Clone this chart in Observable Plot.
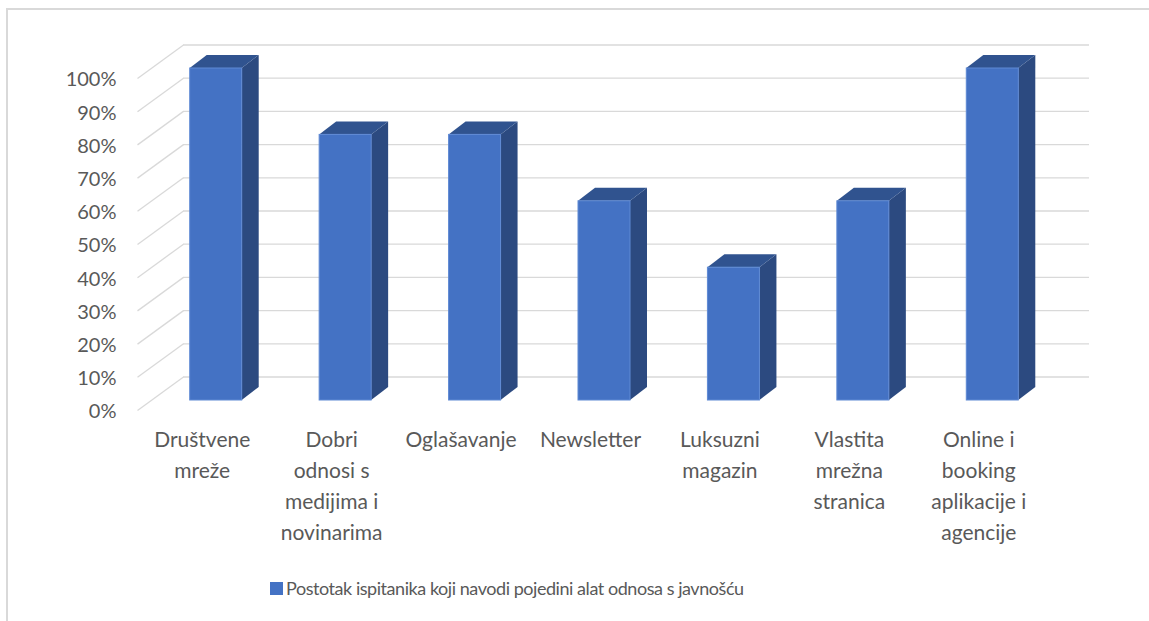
<!DOCTYPE html>
<html>
<head>
<meta charset="utf-8">
<script src="https://cdn.jsdelivr.net/npm/d3@7"></script>
<script src="https://cdn.jsdelivr.net/npm/@observablehq/plot@0.6"></script>
<style>
  html, body { margin: 0; padding: 0; background: #fff; }
  #wrap { position: relative; width: 1149px; height: 621px; overflow: hidden; font-family: Lato, "Open Sans", sans-serif; }
  #frame { position: absolute; left: 6px; top: 8px; right: 0; bottom: 0; border-left: 2px solid #d9d9d9; border-top: 2px solid #d9d9d9; }
  #chart { position: absolute; left: 0; top: 0; }
  #legend { position: absolute; left: 270px; top: 576px; height: 24px; display: flex; align-items: center; color: #595959; font-size: 18px; letter-spacing: -0.45px; white-space: nowrap; }
  #legend .sw { width: 13px; height: 13px; background: #4472C4; margin-right: 3px; }
</style>
</head>
<body>
<div id="wrap">
  <div id="frame"></div>
  <div id="chart"></div>
  <div id="legend"><span class="sw"></span><span id="legtext"></span></div>
</div>
<script>
// ---- data ----
const categories = ["Društvene mreže", "Dobri odnosi s medijima i novinarima", "Oglašavanje", "Newsletter", "Luksuzni magazin", "Vlastita mrežna stranica", "Online i booking aplikacije i agencije"];
const values = [1.0, 0.8, 0.8, 0.6, 0.4, 0.6, 1.0];
const tickLabels = ["Društvene\nmreže", "Dobri\nodnosi s\nmedijima i\nnovinarima", "Oglašavanje", "Newsletter", "Luksuzni\nmagazin", "Vlastita\nmrežna\nstranica", "Online i\nbooking\naplikacije i\nagencije"];
const yTicks = [0, 0.1, 0.2, 0.3, 0.4, 0.5, 0.6, 0.7, 0.8, 0.9, 1.0];
const seriesName = "Postotak ispitanika koji navodi pojedini alat odnosa s javnošću";

// ---- layout ----
const W = 1149, H = 560;
const mL = 137, mR = 106, mT = 78, mB = 150;
const xDomain = [-0.5, categories.length - 0.5];
const pxPerX = (W - mL - mR) / (xDomain[1] - xDomain[0]);
const pxPerY = (H - mT - mB) / 1;
const toDX = px => px / pxPerX, toDY = px => px / pxPerY;

const wallDX = toDX(46), wallDY = toDY(33.5);   // depth of the floor/side wall
const barHW = toDX(26);                          // half width of the bar front face
const sideDX = toDX(17), sideDY = toDY(13);      // depth of each bar
const barOffX = 14, barOffY = -10;               // bar front face placement in depth

const bars = values.map((v, i) => ({i, v, name: categories[i]}));
const sidePts = bars.flatMap(d => [
  {i: d.i, x: d.i + barHW, y1: 0, y2: d.v},
  {i: d.i, x: d.i + barHW + sideDX, y1: sideDY, y2: d.v + sideDY}
]);
const topPts = bars.flatMap(d => [
  {i: d.i, y: d.v, x1: d.i - barHW, x2: d.i + barHW},
  {i: d.i, y: d.v + sideDY, x1: d.i - barHW + sideDX, x2: d.i + barHW + sideDX}
]);

const grid = "#d9d9d9";
const chart = Plot.plot({
  width: W, height: H,
  marginLeft: mL, marginRight: mR, marginTop: mT, marginBottom: mB,
  x: {domain: xDomain, axis: null},
  y: {domain: [0, 1], axis: null},
  style: {fontFamily: "Lato, 'Open Sans', sans-serif", background: "transparent"},
  marks: [
    // back wall gridlines
    Plot.ruleY(yTicks, {y: d => d + wallDY, x1: xDomain[0] + wallDX, x2: xDomain[1] + wallDX, stroke: grid, strokeWidth: 1.3}),
    // side wall diagonals
    Plot.link(yTicks, {x1: xDomain[0], y1: d => d, x2: xDomain[0] + wallDX, y2: d => d + wallDY, stroke: grid, strokeWidth: 1.3}),
    // bars: side, top, front
    Plot.areaY(sidePts, {x: "x", y1: "y1", y2: "y2", z: "i", fill: "#2C4A80", dx: barOffX, dy: barOffY}),
    Plot.areaX(topPts, {y: "y", x1: "x1", x2: "x2", z: "i", fill: "#30538F", dx: barOffX, dy: barOffY}),
    Plot.rect(bars, {x1: d => d.i - barHW, x2: d => d.i + barHW, y1: 0, y2: "v", fill: "#4472C4", stroke: "#5F8AD4", strokeWidth: 1, dx: barOffX, dy: barOffY}),
    // y tick labels
    Plot.text(yTicks, {x: xDomain[0], y: d => d, text: d => Math.round(d * 100) + "%", textAnchor: "end", dx: -21, dy: 1.5, fontSize: 20, fill: "#595959"}),
    // category labels
    Plot.text(tickLabels, {x: (d, i) => i, y: 0, text: d => d, lineAnchor: "top", lineHeight: 1.47, dy: 15, fontSize: 21, fill: "#595959"})
  ]
});
document.getElementById("chart").appendChild(chart);
document.getElementById("legtext").textContent = seriesName;
</script>
</body>
</html>
